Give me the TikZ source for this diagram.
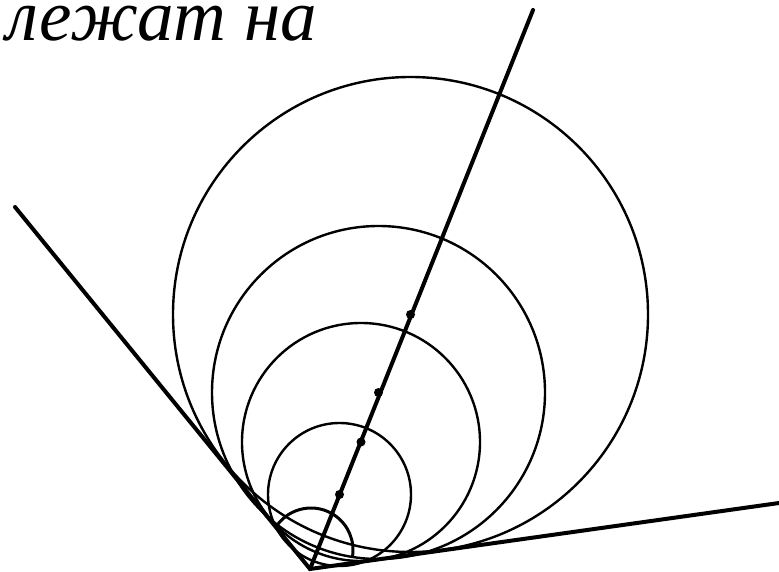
\documentclass[tikz,border=0pt]{standalone}
\usepackage{fontspec}
\setmainfont{Liberation Serif}
\usepackage{tikz}
\usetikzlibrary{positioning,calc}

\tikzset{
  side/.style={line width=4pt, black, line cap=round},
  ring/.style={line width=2.4pt, black},
  centre/.style={circle, fill=black, inner sep=0pt, minimum size=9pt},
  caption/.style={font=\fontsize{73}{73}\selectfont\itshape, anchor=base west, inner sep=0pt}
}

\begin{document}
\begin{tikzpicture}[x=1pt, y=-1pt]
  \useasboundingbox (0,0) rectangle (779,572);
  \node[caption] (title) at (6,41) {лежат на};
  % vertex and ends of the sides
  \coordinate (V) at (310,569);
  \coordinate (L) at (15,207);
  \coordinate (R) at (779,503);
  \coordinate (T) at (533,10);
  % inscribed circles
  \foreach \cx/\cy/\r/\n in {410.5/314.5/237.5/c1, 378.5/392.5/166.5/c2, 361/442/119/c3, 339.5/494.5/71.5/c4} {
    \coordinate (\n) at (\cx,\cy);
    \draw[ring] (\n) circle[radius=\r];
  }
  \coordinate (c5) at (311,550);
  \draw[line width=3pt] (c5) ++(-145:42) arc[start angle=-145, end angle=10, radius=42];
  \draw[side] (L) -- (V) -- (R);
  \draw[side] (V) -- (T);
  \foreach \n in {c1,c2,c3,c4}
    \node[centre] at (\n) {};
\end{tikzpicture}
\end{document}
